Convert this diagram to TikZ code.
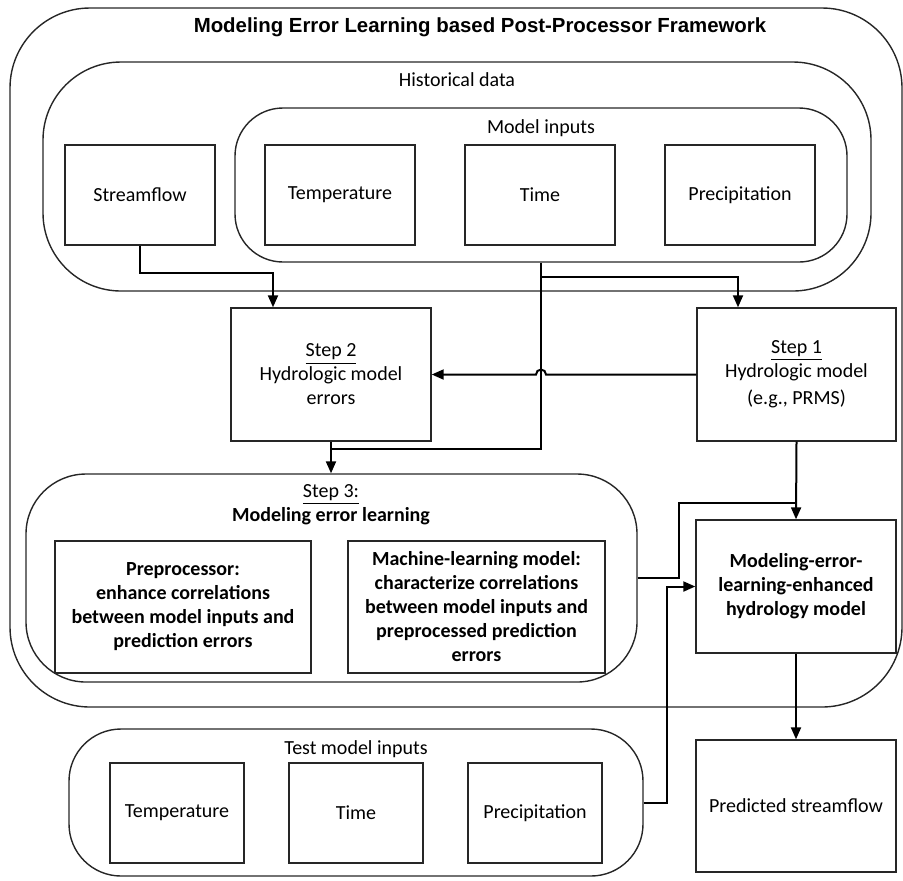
\documentclass[tikz,border=0pt]{standalone}
\usepackage{fontspec}
\setmainfont{Carlito}
\newfontfamily\titlefont{Liberation Sans}
\usepackage{tikz}
\usetikzlibrary{arrows.meta,positioning}
\tikzset{block/.style={draw=black!85, line width=0.7pt, inner sep=0pt, align=center,
                       minimum width=75pt, minimum height=50pt},
         group/.style={draw=black!85, line width=0.7pt, inner sep=0pt},
         wire/.style={line width=1pt}
}

\begin{document}
\begin{tikzpicture}[x=0.5pt, y=-0.5pt, >={Triangle[length=6pt,width=5pt]},
                    node distance=100pt, on grid, font=\fontsize{10}{12}\selectfont]
    \useasboundingbox (0,0) rectangle (903,880);

    % groups
    \node[group, rounded corners=40pt, minimum width=446pt, minimum height=349.5pt] (frame)   at (456,357.5) {};
    \node[group, rounded corners=39pt, minimum width=414pt, minimum height=114.5pt] (hist)    at (457,176.5) {};
    \node[group, rounded corners=24pt, minimum width=306pt, minimum height=77pt]    (minputs) at (541,185)   {};
    \node[group, rounded corners=30pt, minimum width=305.5pt, minimum height=104pt] (step3)   at (331.5,578) {};
    \node[group, rounded corners=26pt, minimum width=287pt, minimum height=73.5pt]  (tinputs) at (356,802.5) {};

    \node[font=\titlefont\fontsize{10.2}{12}\selectfont\bfseries] (title) at (480,27)
        {Modeling Error Learning based Post-Processor Framework};
    \node (histlbl) at (457,80)  {Historical data};
    \node (milbl)   at (541,128) {Model inputs};
    \node[align=center] (s3lbl) at (331,505) {\underline{Step 3:}\\\textbf{Modeling error learning}};
    \node (tilbl)   at (356,749) {Test model inputs};

    % historical data
    \node[block] (stream)                       at (140,195) {Streamflow};
    \node[block] (htemp)   [right=of stream]    {Temperature};
    \node[block] (htime)   [right=of htemp]     {Time};
    \node[block] (hprec)   [right=of htime]     {Precipitation};

    % steps
    \node[block, minimum width=100pt, minimum height=66.5pt] (step2) at (331,374.5)
        {\underline{Step 2}\\Hydrologic model\\errors};
    \node[block, minimum width=99.5pt, minimum height=66.5pt] (step1) at (796.5,374.5)
        {\underline{Step 1}\\Hydrologic model\\[1.5pt](e.g., PRMS)};
    \node[block, font=\fontsize{10}{12}\selectfont\bfseries, minimum width=128pt, minimum height=66pt] (prep) at (183,607)
        {Preprocessor:\\enhance correlations\\between model inputs and\\prediction errors};
    \node[block, font=\fontsize{10}{12}\selectfont\bfseries, minimum width=128.5pt, minimum height=66pt] (mlm) at (476.5,607)
        {Machine-learning model:\\characterize correlations\\between model inputs and\\preprocessed prediction\\errors};
    \node[block, font=\fontsize{10}{12}\selectfont\bfseries, minimum width=100pt, minimum height=66.5pt] (enh) at (796,586.5)
        {Modeling-error-\\learning-enhanced\\hydrology model};
    \node[block, minimum width=100pt, minimum height=66pt] (pred) at (796,806) {Predicted streamflow};

    % test inputs
    \node[block, minimum width=67pt] (ttemp)                          at (177,813) {Temperature};
    \node[block, minimum width=67pt] (ttime) [right=89.5pt of ttemp]  {Time};
    \node[block, minimum width=67pt] (tprec) [right=89.5pt of ttime]  {Precipitation};

    % turning points
    \coordinate (sfturn) at (273,273);
    \coordinate (misplit) at (541,277);
    \coordinate (mijoin) at (541,449);
    \coordinate (s3turn) at (679,577);
    \coordinate (s3join) at (796.5,503);
    \coordinate (tturn)  at (667,586.5);

    \draw[wire, ->] (stream.south) |- (sfturn) -- (sfturn |- step2.north);
    \draw[wire, ->] (misplit) -| ([xshift=-29.25pt]step1.north);
    \draw[wire] (minputs.south) -- (mijoin) -- (mijoin -| step2.south);
    \draw[wire, ->] (step2.south) -- (step2.south |- step3.north);
    \draw[wire, ->] (step1.west) -- (546,374.5) arc[start angle=0, end angle=180, radius=2.5pt] -- (step2.east);
    \draw[wire, ->] (step1.south) -- (enh.north);
    \draw[wire] (step3.east) -- (s3turn |- step3.east) |- (s3join);
    \draw[wire, ->] (tinputs.east) -| (tturn) -- (enh.west);
    \draw[wire, ->] (enh.south) -- (pred.north);
\end{tikzpicture}
\end{document}
